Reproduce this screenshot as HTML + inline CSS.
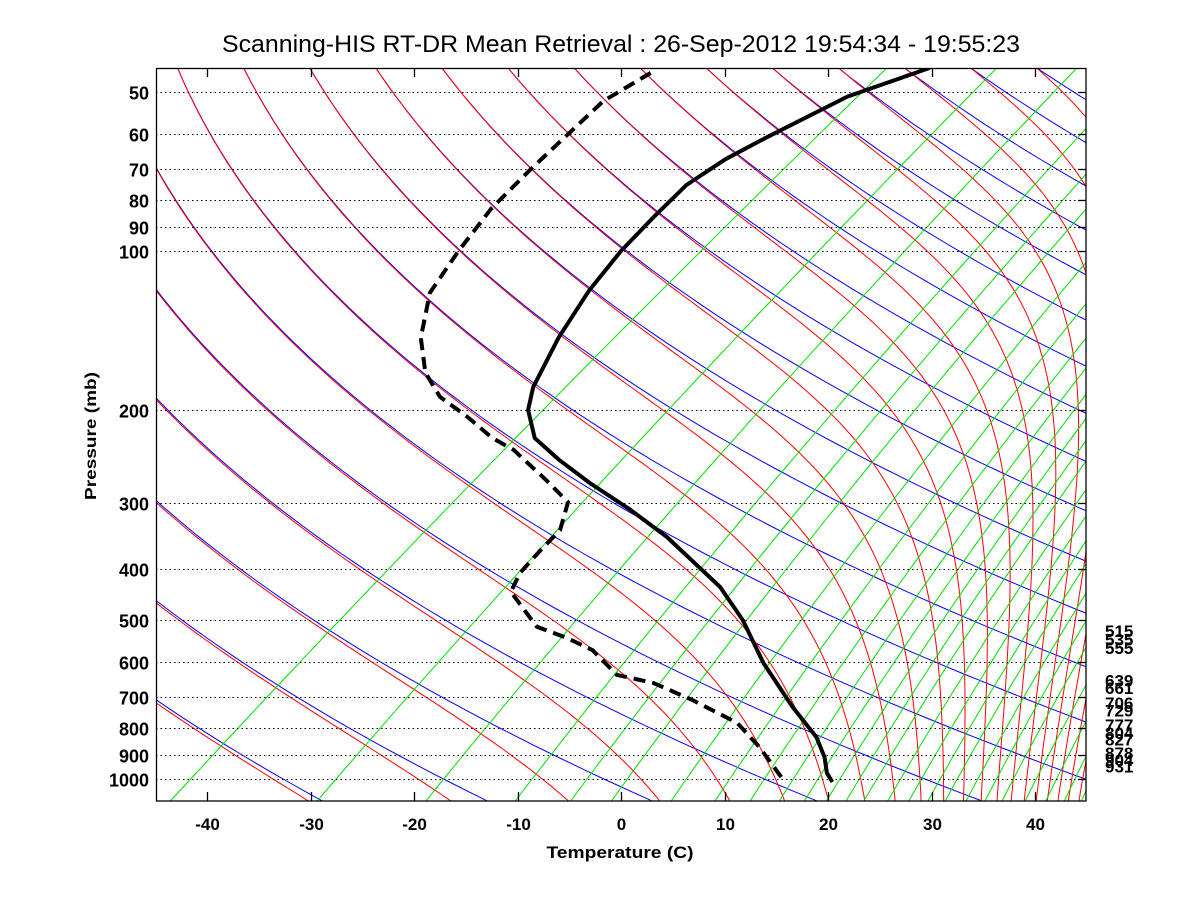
<!DOCTYPE html>
<html><head><meta charset="utf-8"><style>
html,body{margin:0;padding:0;background:#fff;}
svg{display:block;}
text{font-family:"Liberation Sans",Arial,sans-serif;}
</style></head>
<body>
<svg id="chart" width="1200" height="900" viewBox="0 0 1200 900" xmlns="http://www.w3.org/2000/svg">
<rect x="0" y="0" width="1200" height="900" fill="#fff"/>
<text x="621" y="52" text-anchor="middle" font-size="24" textLength="798" lengthAdjust="spacingAndGlyphs">Scanning-HIS RT-DR Mean Retrieval : 26-Sep-2012 19:54:34 - 19:55:23</text>
<text x="620" y="858" text-anchor="middle" font-size="17" font-weight="bold" textLength="147" lengthAdjust="spacingAndGlyphs">Temperature (C)</text>
<text x="0" y="0" transform="translate(96,436) rotate(-90)" text-anchor="middle" font-size="16" font-weight="bold" textLength="128" lengthAdjust="spacingAndGlyphs">Pressure (mb)</text>
<defs><clipPath id="plotclip"><rect x="156" y="68" width="930" height="733"/></clipPath></defs>
<g id="bg" clip-path="url(#plotclip)"></g>
<g id="grid"></g>
<g id="profiles" clip-path="url(#plotclip)"></g>
<g id="axes"></g>
</svg>
<script>
// ---- data ----
const tempP = [45,51,61,67,75,86,100,119,146,181,200,226,249,275,309,348,433,500,603,731,833,909,974,1013];
const tempC = [-63.1,-67.3,-69.8,-70.9,-71.3,-70.3,-69.0,-66.9,-63.7,-59.7,-57.2,-52.9,-47.6,-41.7,-34.3,-27.2,-15.5,-9.0,-1.4,7.2,13.4,16.8,19.1,20.8];
const dewP = [46,52,60,70,83,100,120,146,170,189,206,226,238,272,299,338,368,407,442,485,515,541,570,635,658,709,783,870,1004];
const dewC = [-89.4,-90.3,-89.4,-88.4,-87.1,-84.7,-82.0,-77.0,-72.0,-67.4,-62.2,-57.0,-53.4,-46.2,-41.3,-38.4,-37.7,-36.7,-35.1,-30.8,-28.0,-23.6,-19.6,-14.0,-9.4,-3.4,3.9,9.2,15.8];
const xTicks = [-40,-30,-20,-10,0,10,20,30,40];
const pLevels = [50,60,70,80,90,100,200,300,400,500,600,700,800,900,1000];
const sideLabels = [515,535,555,639,661,706,729,777,804,827,878,904,931];
const thetaList = [225,240.5,256,271.5,287,302.5,318,333.5,349,364.5,380,395.5,411,426.5,442,457.5,473,488.5,504,519.5,535,550.5,566];
const mixList = [0.1,0.4,1,2,3,4,6,8,10,12,14,16,18,20,23,26,29,32,36,40,44,50,56,62,68];

// ---- scales ----
const X0=621, PXC=10.35, SKEW=69, Y1000=779, PXD=528, PBOT=1100, PTOP=45;
function yP(p){return Y1000-PXD*Math.log10(1000/p);}
function xTP(t,p){return X0+PXC*(t+SKEW*Math.log10(1000/p));}
const NS="http://www.w3.org/2000/svg";
function mk(tag,attrs,parent){const e=document.createElementNS(NS,tag);for(const k in attrs)e.setAttribute(k,attrs[k]);parent.appendChild(e);return e;}
function ptsStr(arr){return arr.map(a=>a[0].toFixed(1)+","+a[1].toFixed(1)).join(" ");}
const bg=document.getElementById('bg'), grid=document.getElementById('grid'), prof=document.getElementById('profiles'), axes=document.getElementById('axes');

function es(tc){return 6.112*Math.exp(17.67*tc/(tc+243.5));}
function rs(tk,p){const e=es(tk-273.15);return 0.622*e/Math.max(p-e,1e-3);}

// dry adiabats
thetaList.forEach(function(th){
  const pts=[];
  for(let i=0;i<=80;i++){const p=PBOT*Math.pow(PTOP/PBOT,i/80);const t=th*Math.pow(p/1000,0.286)-273.15;pts.push([xTP(t,p),yP(p)]);}
  const l=mk('polyline',{points:ptsStr(pts),fill:'none',stroke:'#0000ff','stroke-width':1},bg);
  
  
});
// moist adiabats: start coincident with dry adiabat at top, integrate downward
thetaList.forEach(function(th){
  let T=th*Math.pow(PTOP/1000,0.286);
  const pts=[];const N=300;
  let lnp=Math.log(PTOP);const dl=(Math.log(PBOT)-Math.log(PTOP))/N;
  pts.push([xTP(T-273.15,PTOP),yP(PTOP)]);
  for(let i=0;i<N;i++){
    const p=Math.exp(lnp);const r=rs(T,p);
    const d=(287*T+2.5e6*r)/(1004+2.5e6*2.5e6*r*0.622/(287*T*T));
    T+=d*dl;lnp+=dl;
    if(i%3==2)pts.push([xTP(T-273.15,Math.exp(lnp)),yP(Math.exp(lnp))]);
  }
  const l=mk('polyline',{points:ptsStr(pts),fill:'none',stroke:'#ff0000','stroke-width':1},bg);
  
  
});
// mixing ratio lines
mixList.forEach(function(w){
  const pts=[];
  for(let i=0;i<=40;i++){const p=PBOT*Math.pow(PTOP/PBOT,i/40);const e=w*p/(622+w);const g=Math.log(e/6.112);const td=243.5*g/(17.67-g);pts.push([xTP(td,p),yP(p)]);}
  const l=mk('polyline',{points:ptsStr(pts),fill:'none',stroke:'#00e000','stroke-width':1},bg);
  
  
});
// pressure grid + left labels + right ticks
pLevels.forEach(function(p){
  const y=Math.round(yP(p))+0.5;
  const g=mk('line',{x1:156,x2:1086,y1:y,y2:y,stroke:'#000','stroke-width':1,'stroke-dasharray':'1.5,3'},grid);
  
  
  const t=mk('line',{x1:1078,x2:1086,y1:y,y2:y,stroke:'#000','stroke-width':1.3},axes);
  
  
  const tx=mk('text',{x:149,y:y+7,'text-anchor':'end','font-size':18,'font-weight':'bold'},axes);
  tx.textContent=String(p);
  
  
});
// x ticks
xTicks.forEach(function(t){
  const x=Math.round(X0+PXC*t)+0.5;
  const a=mk('line',{x1:x,x2:x,y1:801,y2:792,stroke:'#000','stroke-width':1.3},axes);
  
  
  const b=mk('line',{x1:x,x2:x,y1:68,y2:77,stroke:'#000','stroke-width':1.3},axes);
  
  
  const tx=mk('text',{x:x,y:830,'text-anchor':'middle','font-size':17,'font-weight':'bold'},axes);
  tx.textContent=String(t);
  
  
});
// frame
const fr=mk('rect',{x:156.5,y:68.5,width:929.5,height:732.5,fill:'none',stroke:'#000','stroke-width':1.3},axes);


// side labels
sideLabels.forEach(function(p){
  const tx=mk('text',{x:1105,y:yP(p)+10,'font-size':17,'font-weight':'bold'},axes);
  tx.textContent=String(p);
  
  
});
// profiles
const tp=tempP.map((p,i)=>[xTP(tempC[i],p),yP(p)]);
const tl=mk('polyline',{points:ptsStr(tp),fill:'none',stroke:'#000','stroke-width':4,'stroke-linejoin':'round'},prof);


const dp=dewP.map((p,i)=>[xTP(dewC[i],p),yP(p)]);
const dl2=mk('polyline',{points:ptsStr(dp),fill:'none',stroke:'#000','stroke-width':4,'stroke-dasharray':'12,7'},prof);


</script>
</body></html>
